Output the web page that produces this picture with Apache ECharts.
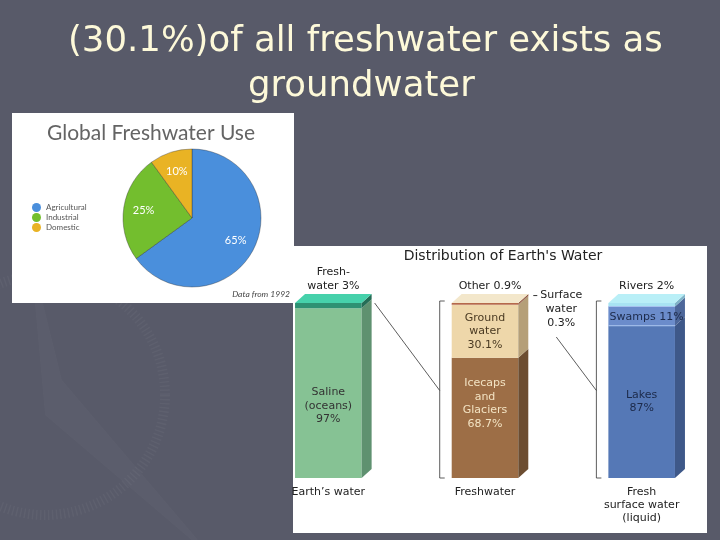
<!DOCTYPE html>
<html>
<head>
<meta charset="utf-8">
<script src="https://cdn.jsdelivr.net/npm/echarts@6/dist/echarts.min.js"></script>
<style>
html, body { margin: 0; padding: 0; background: #585a69; }
#chart { width: 720px; height: 540px; }
</style>
</head>
<body>
<div id="chart"></div>
<script>
// Global freshwater use (data from 1992)
const useNames = ['Agricultural', 'Industrial', 'Domestic'];
const useValues = [65, 25, 10];

// Distribution of Earth's water, each bar stacked bottom -> top
const barCategories = ['Earth\u2019s water', 'Freshwater', 'Fresh\nsurface water\n(liquid)'];
const earthNames = ['Saline\n(oceans)', 'Fresh-\nwater'];
const earthValues = [97, 3];
const freshNames = ['Icecaps\nand\nGlaciers', 'Ground\nwater', 'Surface\nwater', 'Other'];
const freshValues = [68.7, 30.1, 0.3, 0.9];
const surfaceNames = ['Lakes', 'Swamps', 'Rivers'];
const surfaceValues = [87, 11, 2];

const segNames = [earthNames, freshNames, surfaceNames];
const segValues = [earthValues, freshValues, surfaceValues];

// look of the 3d boxes
const DX = 10, DY = -9;
const barStyles = [
  { front: ['#86c294', '#2e9173'], side: ['#5f9170', '#256d56'], top: '#46d1ab', text: ['#333333', '#222222'], dy: [13, 0], sep: null },
  { front: ['#9d6e46', '#eed7aa', '#b5694a', '#b5694a'], side: ['#6c4d31', '#b59f78', '#8a4f37', '#8a4f37'], top: '#f3e7cb', text: ['#f3e3c3', '#4a3a22', '#222222', '#222222'], dy: [-14, 0, 0, 0], sep: null },
  { front: ['#5578b6', '#6b8ccb', '#a8e3f2'], side: ['#3e5889', '#4d679a', '#7fb3c8'], top: '#b9eff7', text: ['#1c2a4a', '#1c2a4a', '#222222'], dy: [0, 1, 0], sep: '#a6c2ee' }
];
const labelFont = '11px "DejaVu Sans"';

const barData = [];
segValues.forEach((vals, b) => {
  let acc = 0;
  vals.forEach((v, k) => {
    barData.push([b, acc, acc + v, b, k]);
    acc += v;
  });
});

function renderBar(params, api) {
  const cat = api.value(0), start = api.value(1), end = api.value(2), k = api.value(4);
  const names = segNames[cat], vals = segValues[cat], st = barStyles[cat];
  const pb = api.coord([cat, start]), pt = api.coord([cat, end]);
  const w = api.size([1, 0])[0] * 0.425;
  const x0 = pb[0] - w / 2, x1 = pb[0] + w / 2;
  const yb = pb[1], yt = pt[1];
  const children = [
    { type: 'rect', shape: { x: x0, y: yt, width: w, height: yb - yt }, style: { fill: st.front[k] } },
    { type: 'polygon', shape: { points: [[x1, yt], [x1 + DX, yt + DY], [x1 + DX, yb + DY], [x1, yb]] }, style: { fill: st.side[k] } }
  ];
  const isTop = k === vals.length - 1;
  if (st.sep && k > 0) {
    children.push({ type: 'line', shape: { x1: x0, y1: yb, x2: x1, y2: yb }, style: { stroke: st.sep, lineWidth: 1 } });
  }
  if (isTop) {
    children.push({ type: 'polygon', shape: { points: [[x0, yt], [x0 + DX, yt + DY], [x1 + DX, yt + DY], [x1, yt]] }, style: { fill: st.top } });
    children.push({ type: 'text', style: { x: pb[0] + DX / 2, y: yt + DY - 1, text: names[k] + ' ' + vals[k] + '%', font: labelFont, fill: '#222', align: 'center', verticalAlign: 'bottom', lineHeight: 14 } });
  } else if (vals[k] >= 10) {
    const txt = names[k] + (vals[k] >= 20 ? '\n' : ' ') + vals[k] + '%';
    children.push({ type: 'text', style: { x: pb[0] + (vals[k] >= 20 ? 0 : 5), y: (yt + yb) / 2 + st.dy[k], text: txt, font: labelFont, fill: st.text[k], align: 'center', verticalAlign: 'middle', lineHeight: 13.5 } });
  } else {
    // small segment labelled at the side
    const lx = x1 + DX + 33, ly = yt + DY - 7;
    children.push({ type: 'text', style: { x: lx, y: ly, text: names[k] + '\n' + vals[k] + '%', font: labelFont, fill: '#222', align: 'center', verticalAlign: 'top', lineHeight: 14 } });
    children.push({ type: 'line', shape: { x1: x1 + DX + 5, y1: ly + 7, x2: x1 + DX + 9, y2: ly + 7 }, style: { stroke: '#333', lineWidth: 1 } });
  }
  return { type: 'group', children };
}

// brackets: the next bar breaks down one part of the previous bar
const bracketData = [[1, 0, 100], [2, 0, 100]];

function renderBracket(params, api) {
  const cat = api.value(0);
  const lo = api.coord([cat, api.value(1)]), hi = api.coord([cat, api.value(2)]);
  const w = api.size([1, 0])[0] * 0.425;
  const bx = lo[0] - w / 2 - 12;
  const prev = api.coord([cat - 1, 100]);
  const mid = api.coord([cat, 50]);
  const from = cat === 1 ? [prev[0] + w / 2 + DX + 3, prev[1]] : [prev[0] + w / 2 + 38, prev[1] + 34];
  const lineStyle = { stroke: '#333', lineWidth: 0.8, fill: null };
  return {
    type: 'group',
    children: [
      { type: 'polyline', shape: { points: [[bx + 5, hi[1] - 2], [bx, hi[1] - 2], [bx, lo[1]], [bx + 5, lo[1]]] }, style: lineStyle },
      { type: 'line', shape: { x1: from[0], y1: from[1], x2: bx, y2: mid[1] }, style: lineStyle }
    ]
  };
}

const pieColors = ['#4a8fdc', '#73be2e', '#e9b324'];
const pieData = useNames.map((n, i) => ({ name: n, value: useValues[i], itemStyle: { color: pieColors[i] } }));

const option = {
  backgroundColor: '#585a69',
  animation: false,
  title: [
    { text: '(30.1%)of all freshwater exists as', left: 68, top: 24, padding: 0,
      textStyle: { color: '#fdf9d9', fontSize: 35.5, fontWeight: 'normal', fontFamily: 'DejaVu Sans' } },
    { text: 'groundwater', left: 248, top: 69, padding: 0,
      textStyle: { color: '#fdf9d9', fontSize: 35.5, fontWeight: 'normal', fontFamily: 'DejaVu Sans' } }
  ],
  graphic: [
    { type: 'circle', z: 0, silent: true, shape: { cx: 45, cy: 395, r: 120 }, style: { fill: null, stroke: 'rgba(255,255,255,0.04)', lineWidth: 10, lineDash: [1.5, 2.5] } },
    { type: 'polygon', z: 0, silent: true, shape: { points: [[30, 250], [62, 380], [215, 560], [45, 415]] }, style: { fill: 'rgba(255,255,255,0.025)' } },
    { type: 'rect', z: 0, silent: true, shape: { x: 12, y: 113, width: 282, height: 190 }, style: { fill: '#ffffff' } },
    { type: 'rect', z: 0, silent: true, shape: { x: 293, y: 246, width: 414, height: 287 }, style: { fill: '#ffffff' } },
    { type: 'text', z: 5, silent: true, style: { x: 151, y: 133, text: 'Global Freshwater Use', font: '21px Lato', fill: '#646464', align: 'center', verticalAlign: 'middle' } },
    { type: 'text', z: 5, silent: true, style: { x: 290, y: 294, text: 'Data from 1992', font: 'italic 8.5px Lato', fill: '#444', align: 'right', verticalAlign: 'middle' } },
    { type: 'text', z: 5, silent: true, style: { x: 503, y: 256, text: 'Distribution of Earth\'s Water', font: '14px "DejaVu Sans"', fill: '#222', align: 'center', verticalAlign: 'middle' } }
  ],
  legend: {
    data: useNames,
    orient: 'vertical',
    left: 32,
    top: 203,
    padding: 0,
    itemGap: 1,
    itemWidth: 9,
    itemHeight: 9,
    icon: 'circle',
    itemStyle: { borderWidth: 0 },
    textStyle: { color: '#555', fontSize: 8, fontFamily: 'Lato' }
  },
  grid: { left: 250, width: 480, top: 303, height: 175 },
  xAxis: {
    type: 'category',
    data: barCategories,
    axisLine: { show: false },
    axisTick: { show: false },
    axisLabel: { color: '#222', fontSize: 11, fontFamily: 'DejaVu Sans', lineHeight: 13, margin: 8 }
  },
  yAxis: { type: 'value', min: 0, max: 100, show: false },
  series: [
    {
      type: 'pie',
      center: [192, 218],
      radius: 69,
      startAngle: 90,
      label: { show: false },
      labelLine: { show: false },
      itemStyle: { borderColor: 'rgba(40,40,40,0.6)', borderWidth: 0.6 },
      data: pieData
    },
    {
      type: 'pie',
      center: [192, 218],
      radius: 92,
      startAngle: 90,
      silent: true,
      legendHoverLink: false,
      itemStyle: { color: 'transparent' },
      label: { show: true, position: 'inside', formatter: '{c}%', color: '#fff', fontSize: 11, fontFamily: 'Lato' },
      labelLine: { show: false },
      data: useNames.map((n, i) => ({ name: n, value: useValues[i], itemStyle: { color: 'transparent' } }))
    },
    {
      type: 'custom',
      renderItem: renderBar,
      data: barData,
      silent: true
    },
    {
      type: 'custom',
      renderItem: renderBracket,
      data: bracketData,
      silent: true
    }
  ]
};

const chart = echarts.init(document.getElementById('chart'));
chart.setOption(option);
</script>
</body>
</html>
